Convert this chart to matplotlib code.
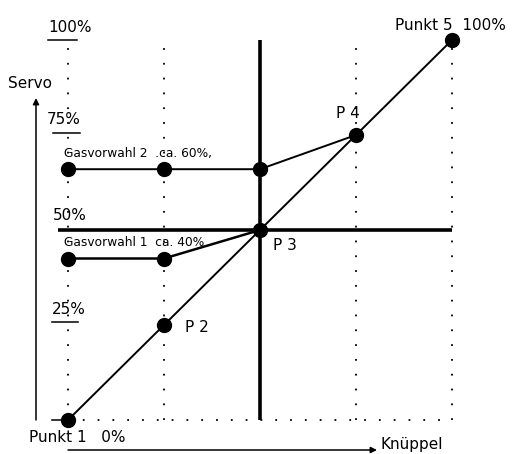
import matplotlib
matplotlib.use("Agg")
import matplotlib.pyplot as plt

# ---- data (percent) ----
knueppel = [0, 25, 50, 75, 100]
servo = [0, 25, 50, 75, 100]
point_labels = ["Punkt 1   0%", "P 2", "P 3", "P 4", "Punkt 5  100%"]
gas2_x = [0, 25, 50, 75]
gas2_y = [66, 66, 66, 75]
gas1_x = [0, 25, 50]
gas1_y = [42.5, 42.5, 50]
level_labels = ["100%", "75%", "50%", "25%"]
level_values = [100, 75, 50, 25]
gas2_label = "Gasvorwahl 2  .ca. 60%,"
gas1_label = "Gasvorwahl 1  ca. 40%"

W, H = 515, 454
fig = plt.figure(figsize=(W / 100, H / 100), dpi=100)
ax = fig.add_axes([0, 0, 1, 1])
ax.set_axis_off()

# pixel mapping: x 0% -> px 68, 100% -> px 452 ; y 0% -> py 420, 100% -> py 40
sx, sy = 3.84, 3.8
ax.set_xlim(-68 / sx, (W - 68) / sx)
ax.set_ylim(-(H - 420) / sy, 420 / sy)

def X(px):
    return (px - 68) / sx

def Y(py):
    return (420 - py) / sy

dot = (0, (1, 7.2))
# dotted grid verticals
for xv in [0, 25, 75, 100]:
    top = 98.5 if xv == 0 else 100
    ax.plot([xv, xv], [0, top], color="black", lw=1.3, ls=dot)
ax.plot([0, 100], [0, 0], color="black", lw=1.3, ls=dot)

# bold cross at P3
ax.plot([50, 50], [0, 100], color="black", lw=2.6, solid_capstyle="butt")
ax.plot([X(58), 100], [50, 50], color="black", lw=2.6, solid_capstyle="butt")

# curves
ax.plot(knueppel, servo, color="black", lw=1.4)
ax.plot(gas2_x, gas2_y, color="black", lw=1.4)
ax.plot(gas1_x, gas1_y, color="black", lw=1.8)
ax.plot(knueppel, servo, "o", color="black", ms=10)
ax.plot(gas2_x[:3], gas2_y[:3], "o", color="black", ms=10)
ax.plot(gas1_x[:2], gas1_y[:2], "o", color="black", ms=10)

# axes arrows
ax.annotate("", xy=(X(36), Y(98)), xytext=(X(36), 0),
            arrowprops=dict(arrowstyle="-|>", color="black", lw=1.1,
                            mutation_scale=9, shrinkA=0, shrinkB=0))
ax.plot([X(52), 0], [0, 0], color="black", lw=1.1)
ax.annotate("", xy=(X(377), Y(450)), xytext=(0, Y(450)),
            arrowprops=dict(arrowstyle="-|>", color="black", lw=1.1,
                            mutation_scale=9, shrinkA=0, shrinkB=0))

fs = 11
# level labels with underlines
lab_px = {"100%": (48, 28, 48, 77, 40), "75%": (47, 120, 53, 80, 133),
          "50%": (53, 216, None, None, None), "25%": (52, 310, 52, 78, 322)}
for lab in level_labels:
    lx, ly, u0, u1, uy = lab_px[lab]
    ax.text(X(lx), Y(ly), lab, fontsize=fs, ha="left", va="center")
    if u0 is not None:
        ax.plot([X(u0), X(u1)], [Y(uy), Y(uy)], color="black", lw=1.1)

ax.text(X(8), Y(84), "Servo", fontsize=fs, ha="left", va="center")
ax.text(X(381), Y(445), "Knüppel", fontsize=fs, ha="left", va="center")

# point labels
pt_px = [(29, 437), (185, 328), (273, 245), (336, 113), (395, 25)]
for lab, (lx, ly) in zip(point_labels, pt_px):
    ax.text(X(lx), Y(ly), lab, fontsize=fs, ha="left", va="center")

ax.text(X(64), Y(154), gas2_label, fontsize=8.8, ha="left", va="center")
ax.text(X(64), Y(243), gas1_label, fontsize=8.8, ha="left", va="center")

fig.savefig("out.png", dpi=100, facecolor="white")
